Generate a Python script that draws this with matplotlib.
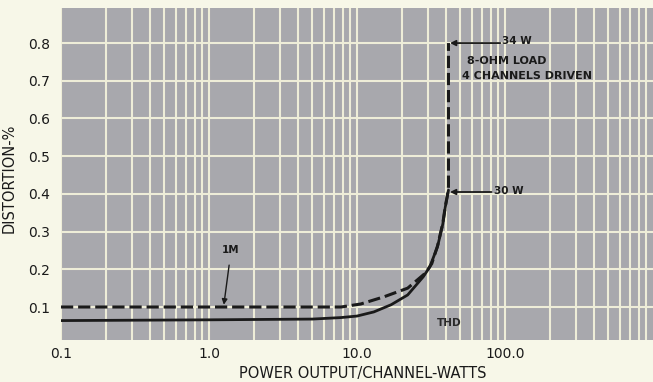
import numpy as np
from matplotlib import pyplot as plt
from matplotlib.ticker import FixedLocator, NullFormatter

# THD curve (solid)
thd_w = [0.1, 1.0, 5.0, 7.8, 10.0, 13.0, 17.0, 22.0, 28.0, 31.0, 35.0, 38.0, 39.5, 41.0, 41.5]
thd_pct = [0.064, 0.066, 0.068, 0.072, 0.076, 0.087, 0.106, 0.132, 0.18, 0.206, 0.26, 0.32,
           0.365, 0.40, 0.41]

# IM curve (dashed)
im_w = [0.1, 1.0, 5.0, 7.8, 10.6, 15.2, 22.0, 29.0, 32.0, 35.0, 38.0, 39.5, 41.0, 41.5, 41.5]
im_pct = [0.1, 0.1, 0.1, 0.1, 0.108, 0.127, 0.15, 0.19, 0.215, 0.262, 0.322, 0.367, 0.40,
          0.42, 0.80]

xticks = [0.1, 1.0, 10.0, 100.0]
xtick_labels = ["0.1", "1.0", "10.0", "100.0"]
yticks = [0.1, 0.2, 0.3, 0.4, 0.5, 0.6, 0.7, 0.8]

bg = "#f7f7e8"
paper = "#a8a8ad"
gridc = "#eeedd8"
ink = "#1a1a1a"

plt.rcParams['font.family'] = ['DejaVu Sans']

fig = plt.figure(figsize=(6.53, 3.82), dpi=100, facecolor=bg)
ax = fig.add_axes([61 / 653, 1 - 340 / 382, 1 - 61 / 653, (340 - 8) / 382])
ax.set_facecolor(paper)
ax.set_xscale("log")
ax.set_xlim(0.1, 1000)
ax.set_ylim(0.0125, 0.893)

minors = [m * 10.0 ** e for e in range(-1, 3) for m in range(2, 10)]
ax.xaxis.set_minor_locator(FixedLocator(minors))
ax.xaxis.set_minor_formatter(NullFormatter())
ax.set_xticks(xticks)
ax.set_xticklabels(xtick_labels)
ax.set_yticks(yticks)
ax.grid(True, which="both", axis="x", color=gridc, lw=1.5)
ax.grid(True, which="major", axis="y", color=gridc, lw=1.5)
ax.set_axisbelow(True)
for s in ax.spines.values():
    s.set_visible(False)
ax.tick_params(which="both", length=0, labelsize=10, colors=ink, pad=8)
ax.tick_params(axis="x", pad=5)

ax.plot(thd_w, thd_pct, color=ink, lw=2.0, solid_capstyle="round")
ax.plot(im_w, im_pct, color=ink, lw=2.2, dashes=(4, 1.6))

# annotations
ax.annotate("", xy=(42.5, 0.80), xytext=(93, 0.80),
            arrowprops=dict(arrowstyle="-|>", color=ink, lw=1.3, mutation_scale=8,
                            shrinkA=0, shrinkB=0))
ax.text(96, 0.805, "34 W", fontsize=7.5, color=ink, va="center", fontweight="bold")
ax.annotate("", xy=(42.5, 0.405), xytext=(81, 0.405),
            arrowprops=dict(arrowstyle="-|>", color=ink, lw=1.3, mutation_scale=8,
                            shrinkA=0, shrinkB=0))
ax.text(84, 0.408, "30 W", fontsize=7.5, color=ink, va="center", fontweight="bold")
ax.text(55, 0.752, "8-OHM LOAD", fontsize=8, color=ink, va="center", fontweight="bold")
ax.text(51, 0.712, "4 CHANNELS DRIVEN", fontsize=8, color=ink, va="center",
        fontweight="bold")
ax.annotate("1M", xy=(1.26, 0.106), xytext=(1.41, 0.25), fontsize=7.5, color=ink,
            ha="center", va="center", fontweight="bold",
            arrowprops=dict(arrowstyle="-|>", color=ink, lw=1.0, mutation_scale=8,
                            shrinkA=5, shrinkB=0))
ax.text(42, 0.058, "THD", fontsize=7.5, color="#2a2a2a", ha="center", va="center",
        fontweight="bold")

ax.set_ylabel("DISTORTION-%", fontsize=10.5, color=ink)
ax.set_xlabel("POWER OUTPUT/CHANNEL-WATTS", fontsize=10.5, color=ink)
ax.xaxis.set_label_coords((363 - 61) / (653 - 61), -0.078)
ax.yaxis.set_label_coords(-0.075, (340 - 178) / 332)

fig.savefig("out.png", dpi=100, facecolor=bg)
